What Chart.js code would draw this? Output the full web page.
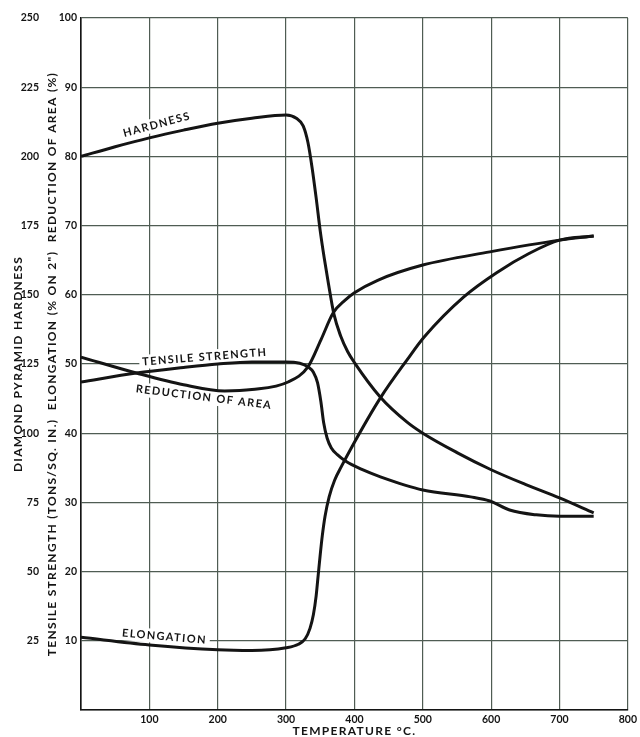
<!DOCTYPE html>
<html>
<head>
<meta charset="utf-8">
<script src="https://cdn.jsdelivr.net/npm/chart.js@4"></script>
<style>
  html, body { margin: 0; padding: 0; background: #fff; }
  #wrap { width: 640px; height: 737px; }
</style>
</head>
<body>
<div id="wrap"><canvas id="chart" width="640" height="737"></canvas></div>
<script>
// temperature (deg C) and readings for each curve
const hardnessT   = [0, 50, 100, 150, 200, 250, 300, 315, 325, 332, 338, 344, 350, 356, 362, 370, 380, 390, 400, 438, 477, 500, 550, 600, 650, 700, 750];
const hardnessDPH = [200, 203.5, 206.7, 209.5, 212, 213.8, 215, 213.8, 211, 205, 196, 185, 173, 163, 154, 143, 135, 129.5, 125.5, 113, 104, 100, 93, 86.8, 81.5, 76.6, 71.2];

const tensileT = [0, 81, 150, 200, 250, 300, 320, 332, 340, 346, 351, 355, 360, 366, 375, 388, 410, 438, 500, 570, 598, 627, 666, 700, 750];
const tensileV = [47.4, 48.7, 49.5, 50.0, 50.3, 50.3, 50.1, 49.6, 48.8, 47.3, 44.5, 41.5, 39.3, 37.9, 36.9, 35.9, 34.8, 33.7, 31.8, 30.8, 30.2, 28.9, 28.2, 28.0, 28.0];

const reductionT = [0, 81, 150, 210, 250, 303, 332, 351, 369, 386, 400, 434, 500, 598, 700, 750];
const reductionV = [51.0, 48.7, 47.0, 46.1, 46.3, 47.4, 49.6, 53.5, 57.4, 59.2, 60.3, 62.1, 64.3, 66.2, 67.9, 68.5];

const elongationT = [0, 100, 200, 250, 300, 318, 328, 335, 340, 344, 347, 350, 353, 357, 363, 371, 381, 395, 438, 477, 502, 560, 608, 656, 700, 750];
const elongationV = [10.5, 9.4, 8.7, 8.6, 9.0, 9.5, 10.3, 11.8, 13.8, 16.5, 19.5, 22.5, 25.2, 28.0, 30.8, 33.2, 35.2, 37.8, 45.1, 50.6, 53.9, 59.7, 63.2, 66.0, 67.9, 68.5];

// curve names written along the lines (data units of the inner axis)
const curveLabels = [
  { text: 'HARDNESS',          t: 111, v: 84.6, angle: -15 },
  { text: 'TENSILE STRENGTH',  t: 181, v: 51.0, angle: -4.5 },
  { text: 'REDUCTION OF AREA', t: 180, v: 45.2, angle: 7 },
  { text: 'ELONGATION',        t: 122, v: 10.6, angle: 5 }
];

const FONT = 'Lato, "Open Sans", sans-serif';
const INK = '#141414';
const GRID = '#4f5c53';

const pts = (xs, ys) => xs.map((x, i) => ({ x, y: ys[i] }));
const noZero = v => (v === 0 ? '' : v);

function curve(label, data, axis) {
  return {
    label,
    data,
    yAxisID: axis,
    borderColor: INK,
    borderWidth: 3,
    pointRadius: 0,
    fill: false,
    cubicInterpolationMode: 'monotone'
  };
}

function eachLabel(chart, fn) {
  const ctx = chart.ctx;
  const xs = chart.scales.x, ys = chart.scales.y;
  curveLabels.forEach(l => {
    ctx.save();
    ctx.translate(xs.getPixelForValue(l.t), ys.getPixelForValue(l.v));
    ctx.rotate(l.angle * Math.PI / 180);
    ctx.font = 'bold 11px ' + FONT;
    ctx.letterSpacing = '1.4px';
    fn(ctx, l, ctx.measureText(l.text).width);
    ctx.restore();
  });
}

const labelPlugin = {
  id: 'curveLabels',
  beforeDraw(chart) {
    chart.ctx.letterSpacing = '1.3px'; // axis titles are spaced out
  },
  beforeDatasetsDraw(chart) {
    chart.ctx.letterSpacing = '0px';
    // white patch behind each label so the grid breaks there
    eachLabel(chart, (ctx, l, w) => {
      ctx.fillStyle = '#fff';
      ctx.fillRect(-w / 2 - 3, -7, w + 6, 14);
    });
  },
  afterDatasetsDraw(chart) {
    eachLabel(chart, (ctx, l) => {
      ctx.fillStyle = INK;
      ctx.textAlign = 'center';
      ctx.textBaseline = 'middle';
      ctx.fillText(l.text, 0, 0);
    });
    chart.ctx.letterSpacing = '0px';
  }
};

const tickFont = { family: FONT, size: 10.5, weight: 'bold' };
const titleFont = { family: FONT, size: 12, weight: 'bold', lineHeight: 1 };

new Chart(document.getElementById('chart'), {
  type: 'line',
  data: {
    datasets: [
      curve('Hardness', pts(hardnessT, hardnessDPH), 'yH'),
      curve('Tensile strength', pts(tensileT, tensileV), 'y'),
      curve('Reduction of area', pts(reductionT, reductionV), 'y'),
      curve('Elongation', pts(elongationT, elongationV), 'y')
    ]
  },
  options: {
    responsive: false,
    animation: false,
    layout: { padding: { top: 18, right: 8, left: 0, bottom: 0 } },
    plugins: { legend: { display: false }, tooltip: { enabled: false } },
    scales: {
      x: {
        type: 'linear', min: 0, max: 800,
        grid: { color: GRID, lineWidth: 1.2, drawTicks: false },
        border: { color: INK, width: 1.6 },
        ticks: { stepSize: 100, padding: 3, autoSkip: false, maxRotation: 0, z: 1,
                 color: INK, font: tickFont, callback: noZero },
        title: { display: true, text: 'TEMPERATURE °C.', color: INK, font: titleFont,
                 padding: { top: 0, bottom: 0 } },
        afterFit(s) { s.height = 27; }
      },
      y: {
        position: 'left', weight: 1, min: 0, max: 100,
        grid: { color: GRID, lineWidth: 1.2, drawTicks: false },
        border: { color: INK, width: 1.6 },
        ticks: { stepSize: 10, padding: 4, z: 1, color: INK, font: tickFont, callback: noZero },
        title: { display: true, color: INK, font: titleFont, padding: { top: 0, bottom: 0 },
                 text: 'TENSILE STRENGTH (TONS/SQ. IN.)  ELONGATION (% ON 2")  REDUCTION OF AREA (%)' },
        afterFit(s) { s.width = 35; }
      },
      yH: {
        position: 'left', weight: 2, min: 0, max: 250,
        grid: { display: false, drawTicks: false },
        border: { display: false },
        ticks: { stepSize: 25, padding: 7, z: 1, color: INK, font: tickFont, callback: noZero },
        title: { display: true, text: 'DIAMOND PYRAMID HARDNESS', color: INK, font: titleFont,
                 padding: { top: 12, bottom: 0 } },
        afterFit(s) { s.width = 46; }
      }
    }
  },
  plugins: [labelPlugin]
});
</script>
</body>
</html>
